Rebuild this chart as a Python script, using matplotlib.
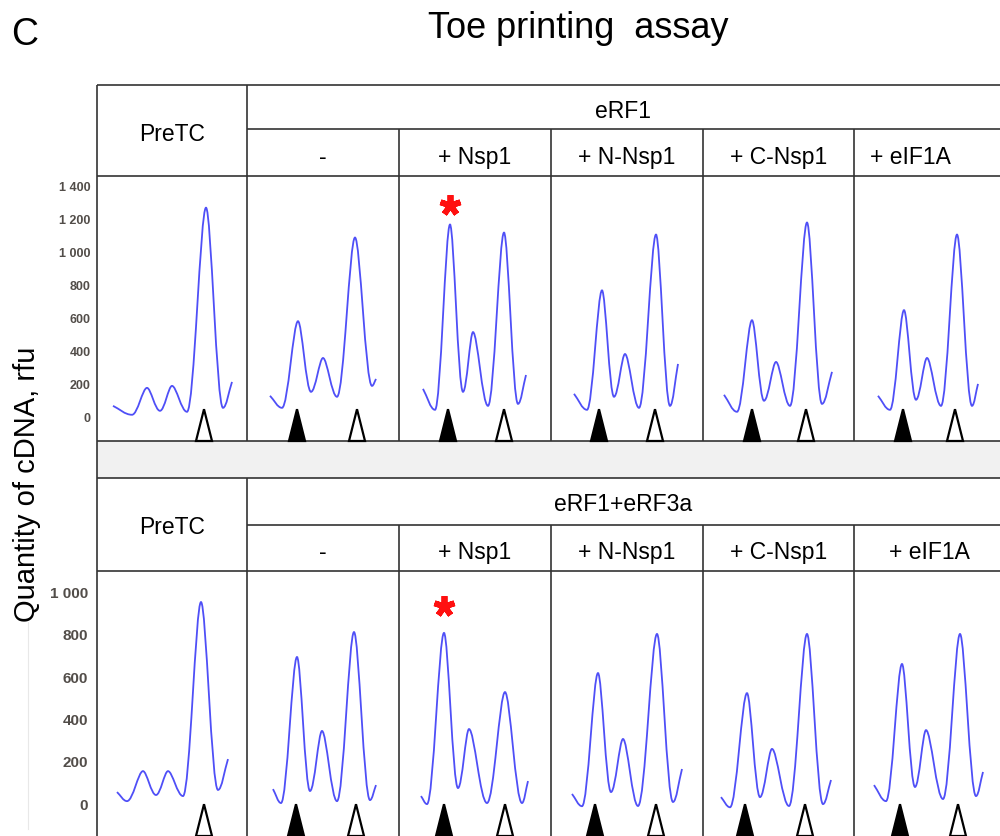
import matplotlib
matplotlib.use("Agg")
import matplotlib.pyplot as plt
from matplotlib.path import Path
from matplotlib.patches import PathPatch, Polygon, Rectangle
import matplotlib.transforms as mtransforms

plt.rcParams['font.family'] = ['Liberation Sans', 'DejaVu Sans']

# lanes of the toe-printing gel, left to right
lanes = ["PreTC", "-", "+ Nsp1", "+ N-Nsp1", "+ C-Nsp1", "+ eIF1A"]

# eRF1 row: trace extrema (position in lane, rfu)
erf1_pos = [
    [16, 35, 50, 63, 75, 90, 109, 126, 135],
    [23, 35, 51, 64, 76, 90, 108, 125, 129],
    [24, 36, 51, 64, 74, 89, 105, 119, 127],
    [23, 36, 51, 63, 74, 88, 105, 119, 127],
    [21, 34, 49, 61, 73, 87, 104, 119, 129],
    [24, 36, 50, 62, 73, 87, 103, 118, 124],
]
erf1_rfu = [
    [66, 12, 175, 36, 187, 30, 1267, 54, 211],
    [127, 54, 579, 151, 356, 121, 1086, 187, 229],
    [169, 42, 1165, 151, 513, 66, 1116, 78, 253],
    [139, 42, 766, 121, 380, 54, 1104, 66, 320],
    [133, 30, 585, 97, 332, 66, 1177, 78, 272],
    [127, 42, 646, 103, 356, 66, 1104, 66, 199],
]
erf1_term = [None, 50, 49, 48, 49, 49]      # filled arrowheads (termination)
erf1_pre = [107, 110, 105, 104, 103, 101]    # open arrowheads (pre-TC)

# eRF1+eRF3a row
erf3_pos = [
    [20, 30, 46, 59, 71, 86, 104, 121, 131],
    [26, 34, 50, 63, 75, 90, 107, 123, 129],
    [22, 28, 45, 59, 70, 88, 106, 123, 129],
    [21, 31, 47, 60, 72, 87, 106, 122, 131],
    [18, 27, 44, 57, 69, 86, 104, 120, 128],
    [20, 32, 48, 61, 72, 89, 106, 122, 129],
]
erf3_rfu = [
    [52, 9, 151, 38, 151, 33, 951, 62, 208],
    [66, 0, 691, 57, 341, 9, 809, 14, 85],
    [33, -5, 805, 71, 350, 0, 525, 0, 104],
    [43, -15, 615, 52, 303, -14, 800, 5, 161],
    [28, -20, 520, 28, 256, -14, 800, -5, 109],
    [85, 9, 658, 76, 345, 19, 800, 33, 147],
]
erf3_term = [None, 49, 45, 44, 42, 46]
erf3_pre = [107, 109, 106, 105, 102, 104]

erf1_ticks = [0, 200, 400, 600, 800, 1000, 1200, 1400]
erf1_ticklabels = ["0", "200", "400", "600", "800", "1 000", "1 200", "1 400"]
erf3_ticks = [0, 200, 400, 600, 800, 1000]
erf3_ticklabels = ["0", "200", "400", "600", "800", "1 000"]

TRACE = '#4f4ff7'
LINE = '#333333'
W, H = 1000, 837

fig = plt.figure(figsize=(10, 8.37), dpi=100)

# full-figure axes in pixel units for the table grid and headers
bg = fig.add_axes([0, 0, 1, 1])
bg.set_xlim(0, W)
bg.set_ylim(H, 0)
bg.axis('off')

col_x = [97, 247, 399, 551, 703, 854, 1000]


def hline(y, x0, x1):
    bg.plot([x0, x1], [y, y], color=LINE, lw=1.2, solid_capstyle='butt')


def vline(x, y0, y1):
    bg.plot([x, x], [y0, y1], color=LINE, lw=1.2, solid_capstyle='butt')


# grey spacer between the two blocks
bg.add_patch(Rectangle((97, 442), 903, 37, facecolor='#f1f1f1', edgecolor='none'))

for top, group in [(86, "eRF1"), (479, "eRF1+eRF3a")]:
    sub = top + 44 if top == 86 else top + 47
    head = top + 91 if top == 86 else top + 93
    hline(top, 97, 1000)
    hline(sub, 247, 1000)
    hline(head, 97, 1000)
    vline(247, top, head + 265 if top == 86 else H)
    for x in col_x[2:6]:
        vline(x, sub, head + 265 if top == 86 else H)
    bg.text(172, top + 55, lanes[0], ha='center', va='baseline', fontsize=16.5)
    bg.text(623, top + 32, group, ha='center', va='baseline', fontsize=16.5)
    centers = [323, 475, 627, 779, 910 if top == 86 else 929]
    for cx, lab in zip(centers, lanes[1:]):
        bg.text(cx, sub + 34 if top == 86 else sub + 33, lab,
                ha='center', va='baseline', fontsize=16.5)

hline(442, 97, 1000)
vline(97, 86, H)

bg.text(11, 45, "C", ha='left', va='baseline', fontsize=27)
bg.text(578, 38, "Toe printing  assay", ha='center', va='baseline', fontsize=26)
bg.text(27, 484, "Quantity of cDNA, rfu", rotation=90, ha='center', va='center',
        fontsize=21)
bg.plot([28, 28], [623, 830], color='#e8e8e8', lw=0.8)


def trace_path(xs, ys):
    # cubic segments with flat tangents at every extremum
    n = len(xs)

    def handle(i):
        if ys[i] > ys[i - 1] and ys[i] > ys[i + 1]:
            return 0.3
        return 0.38

    verts = [(xs[0], ys[0])]
    codes = [Path.MOVETO]
    for i in range(n - 1):
        x0, y0, x1, y1 = xs[i], ys[i], xs[i + 1], ys[i + 1]
        dx = x1 - x0
        if i == 0:
            c0 = (x0 + dx / 3, y0 + (y1 - y0) / 3)
        else:
            c0 = (x0 + handle(i) * dx, y0)
        if i + 1 == n - 1:
            c1 = (x1 - dx / 3, y1 - (y1 - y0) / 3)
        else:
            c1 = (x1 - handle(i + 1) * dx, y1)
        verts += [c0, c1, (x1, y1)]
        codes += [Path.CURVE4] * 3
    return Path(verts, codes)


def arrowhead(ax, x, filled):
    tr = mtransforms.blended_transform_factory(ax.transData, ax.transAxes)
    tri = Polygon([(x - 8, 0.0), (x + 8, 0.0), (x, 0.12)], closed=True,
                  transform=tr, facecolor='black' if filled else 'white',
                  edgecolor='black', lw=1.6, clip_on=False, zorder=4)
    ax.add_patch(tri)


blocks = [
    (177, (-147, 1459), erf1_pos, erf1_rfu, erf1_term, erf1_pre,
     erf1_ticks, erf1_ticklabels, 9, 4.5, 20),
    (572, (-156, 1098), erf3_pos, erf3_rfu, erf3_term, erf3_pre,
     erf3_ticks, erf3_ticklabels, 11, 6.5, 27),
]

for top, ylim, pos, rfu, term, pre, ticks, tlabels, tsize, tpad, star_off in blocks:
    for i in range(len(lanes)):
        x0, x1 = col_x[i], col_x[i + 1]
        ax = fig.add_axes([x0 / W, 1 - (top + 265) / H, (x1 - x0) / W, 265 / H])
        ax.patch.set_visible(False)
        for sp in ax.spines.values():
            sp.set_visible(False)
        ax.set_xlim(0, x1 - x0)
        ax.set_ylim(*ylim)
        ax.set_xticks([])
        if i == 0:
            ax.set_yticks(ticks)
            ax.set_yticklabels(tlabels, fontsize=tsize, fontweight='bold',
                               color='#524d49')
            ax.tick_params(axis='y', length=0, pad=tpad)
        else:
            ax.set_yticks([])
        ax.add_patch(PathPatch(trace_path(pos[i], rfu[i]), fill=False,
                               edgecolor=TRACE, lw=1.3, zorder=3))
        if term[i] is not None:
            arrowhead(ax, term[i], True)
        arrowhead(ax, pre[i], False)
        if lanes[i] == "+ Nsp1":
            # mark the enhanced termination peak
            k = pos[i].index(min(pos[i], key=lambda p: abs(p - term[i])))
            off = mtransforms.offset_copy(ax.transData, fig=fig, y=star_off,
                                          units='dots')
            ax.plot(pos[i][k], rfu[i][k], marker=(5, 2, 0), markersize=15,
                    markeredgewidth=4.2, color='#ff1010', transform=off,
                    clip_on=False, zorder=5)

fig.savefig("out.png", dpi=100)
